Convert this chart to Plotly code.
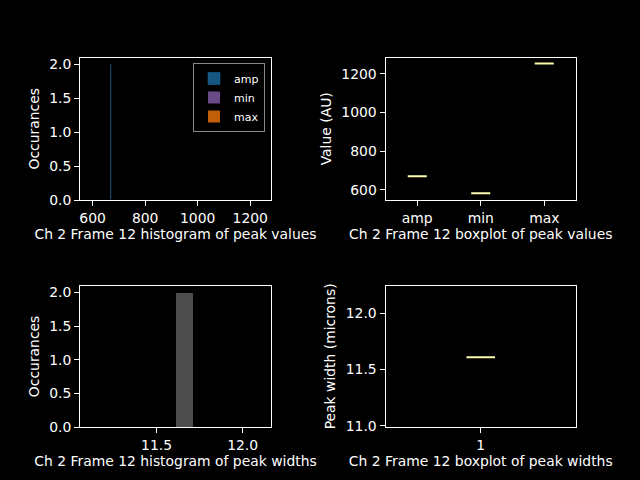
import plotly.graph_objects as go

# peak statistics for Ch 2, Frame 12 (two peaks found)
peak_names = ["amp", "min", "max"]
peak_amp = [670, 670]
peak_min = [583, 583]
peak_max = [1252, 1252]
peak_widths = [11.61, 11.61]

hist_colors = ["rgba(31,119,180,0.72)", "rgba(148,103,189,0.72)", "rgba(255,127,14,0.75)"]
median_color = "#fbfbb0"
font = "DejaVu Sans"
fsize = 13.9

fig = go.Figure()

# --- histogram of peak values (one call per series, 10 bins of +/-0.5 like mpl) ---
for name, vals, color in zip(peak_names, [peak_amp, peak_min, peak_max], hist_colors):
    fig.add_trace(
        go.Histogram(
            x=vals,
            name=name,
            xbins={"start": vals[0] - 0.5, "end": vals[0] + 0.5, "size": 0.1},
            marker={"color": color, "line": {"color": color, "width": 0.6 if name == "amp" else 0}},
            xaxis="x",
            yaxis="y",
            showlegend=True,
        )
    )

# --- boxplot of peak values ---
for i, vals in enumerate([peak_amp, peak_min, peak_max]):
    fig.add_trace(
        go.Box(
            y=vals,
            x=[i + 1] * len(vals),
            width=0.3,
            line={"color": median_color, "width": 2},
            fillcolor="rgba(0,0,0,0)",
            boxpoints=False,
            xaxis="x2",
            yaxis="y2",
            showlegend=False,
        )
    )

# --- histogram of peak widths ---
fig.add_trace(
    go.Histogram(
        x=peak_widths,
        xbins={"start": peak_widths[0] - 0.5, "end": peak_widths[0] + 0.5, "size": 0.1},
        marker={"color": "#4d4d4d"},
        xaxis="x3",
        yaxis="y3",
        showlegend=False,
    )
)

# --- boxplot of peak widths ---
fig.add_trace(
    go.Box(
        y=peak_widths,
        x=[1] * len(peak_widths),
        width=0.15,
        line={"color": median_color, "width": 2},
        fillcolor="rgba(0,0,0,0)",
        boxpoints=False,
        xaxis="x4",
        yaxis="y4",
        showlegend=False,
    )
)

axis_style = {
    "showline": True,
    "linecolor": "white",
    "linewidth": 1,
    "mirror": True,
    "ticks": "outside",
    "ticklen": 5,
    "tickwidth": 1,
    "tickcolor": "white",
    "showgrid": False,
    "zeroline": False,
    "automargin": False,
    "tickfont": {"family": font, "size": fsize, "color": "white"},
    "title": {"font": {"family": font, "size": fsize, "color": "white"}},
}

col1 = [80 / 640, 271 / 640]
col2 = [385.5 / 640, 576 / 640]
row1 = [1 - 200 / 480, 1 - 57.6 / 480]
row2 = [1 - 427.2 / 480, 1 - 285.6 / 480]


def ax(**kw):
    d = dict(axis_style)
    title = kw.pop("title", None)
    if title is not None:
        d["title"] = dict(axis_style["title"], text=title, standoff=kw.pop("standoff", 6))
    d.update(kw)
    return d


fig.update_layout(
    width=640,
    height=480,
    paper_bgcolor="black",
    plot_bgcolor="black",
    margin={"l": 0, "r": 0, "t": 0, "b": 0},
    barmode="overlay",
    bargap=0,
    font={"family": font, "color": "white"},
    xaxis=ax(domain=col1, anchor="y", range=[552, 1279], tickvals=[600, 800, 1000, 1200],
             title="Ch 2 Frame 12 histogram of peak values", standoff=4),
    yaxis=ax(domain=row1, anchor="x", range=[0, 2.1], tickvals=[0, 0.5, 1, 1.5, 2],
             tickformat=".1f", title="Occurances"),
    xaxis2=ax(domain=col2, anchor="y2", range=[0.5, 3.5], tickvals=[1, 2, 3], ticktext=peak_names,
              title="Ch 2 Frame 12 boxplot of peak values", standoff=4),
    yaxis2=ax(domain=row1, anchor="x2", range=[548, 1283], tickvals=[600, 800, 1000, 1200],
              title="Value (AU)"),
    xaxis3=ax(domain=col1, anchor="y3", range=[11.055, 12.165], tickvals=[11.5, 12.0],
              tickformat=".1f", title="Ch 2 Frame 12 histogram of peak widths", standoff=4),
    yaxis3=ax(domain=row2, anchor="x3", range=[0, 2.1], tickvals=[0, 0.5, 1, 1.5, 2],
              tickformat=".1f", title="Occurances"),
    xaxis4=ax(domain=col2, anchor="y4", range=[0.5, 1.5], tickvals=[1],
              title="Ch 2 Frame 12 boxplot of peak widths", standoff=4),
    yaxis4=ax(domain=row2, anchor="x4", range=[10.987, 12.246], tickvals=[11.0, 11.5, 12.0],
              tickformat=".1f", title="Peak width (microns)"),
    legend={
        "x": 265 / 640,
        "y": 1 - 63 / 480,
        "xanchor": "right",
        "yanchor": "top",
        "bgcolor": "black",
        "bordercolor": "#888888",
        "borderwidth": 1,
        "font": {"family": font, "size": 11, "color": "white"},
        "tracegroupgap": 0,
        "itemwidth": 30,
    },
)

# drop the browser's default body margin so the figure sits at the window origin
fig.write_html(
    "out.html",
    config={"displayModeBar": False},
    post_script="document.body.style.margin = '0';",
)
